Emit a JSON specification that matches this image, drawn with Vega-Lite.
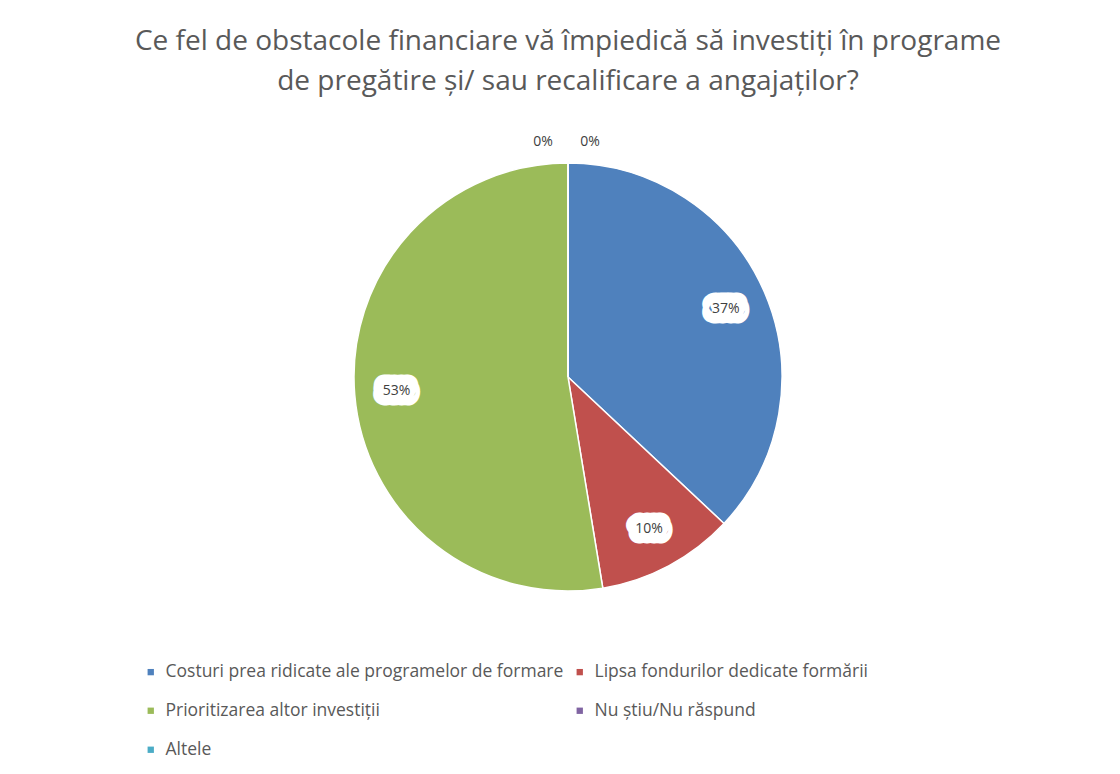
{
  "$schema": "https://vega.github.io/schema/vega-lite/v6.json",
  "width": 1104,
  "height": 534,
  "autosize": {"type": "none"},
  "padding": {"left": 16, "top": 110, "right": 0, "bottom": 130},
  "background": "white",
  "config": {"view": {"stroke": null}, "font": "Open Sans"},
  "title": {
    "text": ["Ce fel de obstacole financiare vă împiedică să investiți în programe", "de pregătire și/ sau recalificare a angajaților?"],
    "fontSize": 28,
    "font": "Open Sans",
    "fontWeight": "normal",
    "color": "#595959",
    "lineHeight": 40,
    "anchor": "middle",
    "offset": 14
  },
  "data": {
    "values": [
      {"cat": "Costuri prea ridicate ale programelor de formare", "value": 37, "label": "37%", "ord": 1},
      {"cat": "Lipsa fondurilor dedicate formării", "value": 10.4, "label": "10%", "ord": 2},
      {"cat": "Prioritizarea altor investiții", "value": 52.6, "label": "53%", "ord": 3},
      {"cat": "Nu știu/Nu răspund", "value": 0, "label": "0%", "ord": 4},
      {"cat": "Altele", "value": 0, "label": "0%", "ord": 5}
    ]
  },
  "encoding": {
    "theta": {"field": "value", "type": "quantitative", "stack": true},
    "order": {"field": "ord", "type": "quantitative"}
  },
  "layer": [
    {
      "mark": {"type": "arc", "outerRadius": 214, "stroke": "white", "strokeWidth": 1.5},
      "encoding": {
        "color": {
          "field": "cat",
          "type": "nominal",
          "sort": ["Costuri prea ridicate ale programelor de formare", "Lipsa fondurilor dedicate formării", "Prioritizarea altor investiții", "Nu știu/Nu răspund", "Altele"],
          "scale": {
            "domain": ["Costuri prea ridicate ale programelor de formare", "Lipsa fondurilor dedicate formării", "Prioritizarea altor investiții", "Nu știu/Nu răspund", "Altele"],
            "range": ["#4F81BD", "#C0504D", "#9BBB59", "#8064A2", "#4BACC6"]
          },
          "legend": {
            "title": null,
            "orient": "none",
            "direction": "horizontal",
            "legendX": 126,
            "legendY": 553,
            "columns": 2,
            "columnPadding": 7,
            "rowPadding": 20,
            "symbolType": "square",
            "symbolSize": 40,
            "symbolStrokeWidth": 0,
            "labelFont": "Open Sans",
            "labelFontSize": 17.5,
            "labelColor": "#595959",
            "labelLimit": 600,
            "labelOffset": 6,
            "padding": 0
          }
        }
      }
    },
    {
      "mark": {"type": "text", "radius": 172, "fontSize": 14, "font": "Open Sans", "stroke": "white", "fill": "white", "strokeWidth": 21, "strokeJoin": "round"},
      "encoding": {
        "text": {"condition": {"test": "datum.value > 0", "field": "label"}, "value": ""}
      }
    },
    {
      "mark": {"type": "text", "radius": 172, "fontSize": 14, "font": "Open Sans", "fill": "#404040"},
      "encoding": {
        "text": {"condition": {"test": "datum.value > 0", "field": "label"}, "value": ""}
      }
    },
    {
      "mark": {"type": "text", "radius": 235, "fontSize": 14, "font": "Open Sans", "fill": "#404040", "dx": -25},
      "encoding": {
        "text": {"condition": {"test": "datum.cat === 'Nu știu/Nu răspund'", "field": "label"}, "value": ""}
      }
    },
    {
      "mark": {"type": "text", "radius": 235, "fontSize": 14, "font": "Open Sans", "fill": "#404040", "dx": 22},
      "encoding": {
        "text": {"condition": {"test": "datum.cat === 'Altele'", "field": "label"}, "value": ""}
      }
    }
  ]
}
